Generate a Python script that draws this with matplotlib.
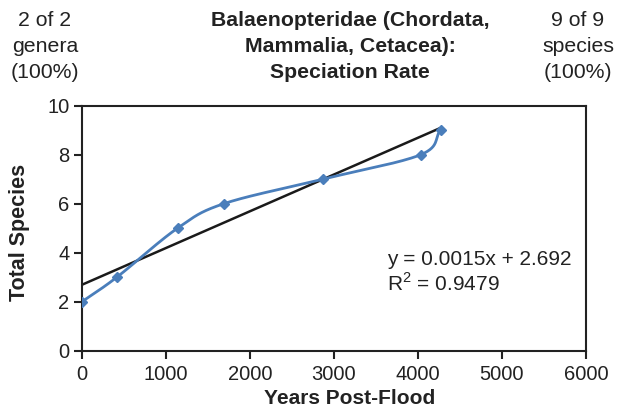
import numpy as np
import matplotlib
matplotlib.use("Agg")
import matplotlib.pyplot as plt

years = [0, 415, 1137, 1688, 2865, 4032, 4268]
species = [2, 3, 5, 6, 7, 8, 9]
x_ticks = [0, 1000, 2000, 3000, 4000, 5000, 6000]
y_ticks = [0, 2, 4, 6, 8, 10]
slope, intercept = 0.0015, 2.692
eq_lines = ["y = 0.0015x + 2.692", "R$^{2}$ = 0.9479"]
left_lines = ["2 of 2", "genera", "(100%)"]
title_lines = ["Balaenopteridae (Chordata,", "Mammalia, Cetacea):", "Speciation Rate"]
right_lines = ["9 of 9", "species", "(100%)"]

plt.rcParams['font.family'] = ['Liberation Sans', 'DejaVu Sans']
plt.rcParams['mathtext.fontset'] = 'custom'
plt.rcParams['mathtext.rm'] = 'Liberation Sans'

W, H = 628, 409

def catmull_rom(xs, ys, n=30):
    P = np.column_stack([xs, ys]).astype(float)
    sc = np.array([6000.0, 10.0])
    Q = P / sc
    Q = np.vstack([Q[0] - (Q[1] - Q[0]), Q, Q[-1] + (Q[-1] - Q[-2])])
    out = []
    for i in range(1, len(Q) - 2):
        p0, p1, p2, p3 = Q[i-1], Q[i], Q[i+1], Q[i+2]
        t = np.linspace(0, 1, n)[:, None]
        seg = 0.5 * ((2*p1) + (-p0 + p2)*t + (2*p0 - 5*p1 + 4*p2 - p3)*t**2 + (-p0 + 3*p1 - 3*p2 + p3)*t**3)
        out.append(seg)
    R = np.vstack(out) * sc
    return R[:, 0], R[:, 1]

fig = plt.figure(figsize=(W/100, H/100), dpi=100)
ax = fig.add_axes([82/W, 1 - 350.7/H, (586-82)/W, (350.7-105.7)/H])

sx, sy = catmull_rom(years, species)
ax.plot(sx, sy, color='#4a7ebb', lw=2, zorder=3)
ax.plot(years, species, linestyle='none', marker='D', ms=5, color='#4a7ebb', zorder=4)

xt = np.array([0, max(years)])
ax.plot(xt, slope * xt + intercept, color='#1a1a1a', lw=1.8, zorder=2)

ax.set_xlim(0, 6000)
ax.set_ylim(0, 10)
ax.set_xticks(x_ticks)
ax.set_yticks(y_ticks)
ax.set_xticklabels([str(v) for v in x_ticks])
ax.tick_params(axis='both', labelsize=14.5, length=6, width=1.5, color='#222222',
               labelcolor='#222222', direction='out', pad=3)
ax.tick_params(axis='x', pad=4)
for s in ax.spines.values():
    s.set_linewidth(1.5)
    s.set_color('#222222')

fig.text(350/W, 1 - 398/H, 'Years Post-Flood', fontsize=15, fontweight='bold',
         ha='center', va='center', color='#222222')
fig.text(20/W, 1 - 232/H, 'Total Species', fontsize=15.5, fontweight='bold',
         ha='center', va='center', rotation=90, color='#222222')

for i, line in enumerate(eq_lines):
    ax.text(3630, 3.71 - i * 0.95, line, fontsize=15, va='center', ha='left', color='#222222')

ys_px = [20, 46, 72]
for lines, xc, bold in [(left_lines, 45, False), (title_lines, 350, True), (right_lines, 578, False)]:
    for line, yp in zip(lines, ys_px):
        fig.text(xc/W, 1 - yp/H, line, ha='center', va='center', fontsize=15.3,
                 fontweight='bold' if bold else 'normal', color='#222222')

fig.savefig('out.png', dpi=100)
